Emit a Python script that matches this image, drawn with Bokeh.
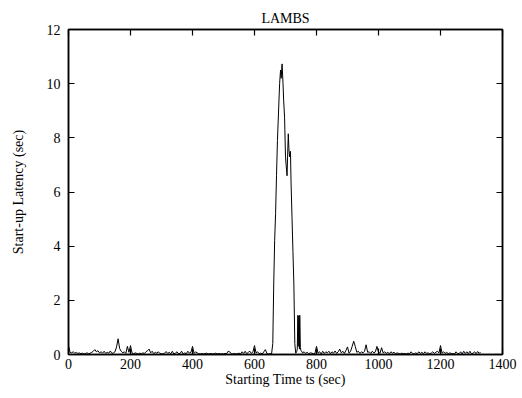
from bokeh.plotting import figure
from bokeh.models import LinearAxis, Range1d, FixedTicker
from bokeh.embed import file_html
from bokeh.resources import INLINE

FONT = "Liberation Serif"

# ---- data ----
time_pre = [0, 5, 10, 15, 20, 25, 30, 35, 40, 45, 50, 55, 60, 65, 70, 75, 80, 85, 90, 95,
            100, 105, 110, 115, 120, 125, 130, 135, 140, 145, 150, 155, 160, 165, 170, 175, 180, 185, 190, 195,
            200, 205, 210, 215, 220, 225, 230, 235, 240, 245, 250, 255, 260, 265, 270, 275, 280, 285, 290, 295,
            300, 305, 310, 315, 320, 325, 330, 335, 340, 345, 350, 355, 360, 365, 370, 375, 380, 385, 390, 395,
            400, 405, 410, 415, 420, 425, 430, 435, 440, 445, 450, 455, 460, 465, 470, 475, 480, 485, 490, 495,
            500, 505, 510, 515, 520, 525, 530, 535, 540, 545, 550, 555, 560, 565, 570, 575, 580, 585, 590, 595,
            600, 605, 610, 615, 620, 625, 630, 635, 640, 645, 650, 655]
latency_pre = [0.32, 0.08, 0.06, 0.10, 0.05, 0.07, 0.04, 0.06, 0.03, 0.05, 0.02, 0.04, 0.06, 0.03, 0.05, 0.08, 0.12, 0.18, 0.10, 0.14,
               0.06, 0.10, 0.05, 0.12, 0.04, 0.08, 0.05, 0.13, 0.04, 0.06, 0.10, 0.28, 0.58, 0.22, 0.12, 0.06, 0.10, 0.04, 0.30, 0.08,
               0.33, 0.05, 0.03, 0.06, 0.04, 0.02, 0.05, 0.03, 0.06, 0.04, 0.10, 0.14, 0.20, 0.06, 0.12, 0.03, 0.08, 0.05, 0.10, 0.04,
               0.03, 0.02, 0.05, 0.11, 0.04, 0.08, 0.03, 0.12, 0.02, 0.05, 0.10, 0.03, 0.04, 0.12, 0.02, 0.06, 0.03, 0.12, 0.05, 0.08,
               0.30, 0.04, 0.10, 0.06, 0.03, 0.02, 0.04, 0.02, 0.03, 0.05, 0.02, 0.03, 0.04, 0.02, 0.03, 0.05, 0.02, 0.04, 0.02, 0.03,
               0.02, 0.04, 0.03, 0.12, 0.10, 0.03, 0.02, 0.04, 0.02, 0.03, 0.05, 0.02, 0.10, 0.04, 0.12, 0.03, 0.08, 0.12, 0.04, 0.10,
               0.33, 0.06, 0.10, 0.03, 0.05, 0.02, 0.10, 0.18, 0.04, 0.02, 0.03, 0.02]

time_peak = [659, 662, 665, 668, 671, 674, 678, 681, 684, 686, 689, 692, 694, 697, 700, 702, 705, 707, 709, 711,
             713, 716, 718, 721, 724, 727, 730, 733, 736, 738, 740, 741, 743, 745, 746, 748, 750, 753]
latency_peak = [0.40, 2.60, 4.20, 5.20, 6.60, 7.90, 9.10, 10.00, 10.50, 10.20, 10.73, 10.00, 9.40, 8.76, 7.30, 7.00, 6.60, 7.40, 8.15, 7.60,
                7.30, 7.50, 6.30, 5.07, 3.80, 2.60, 0.40, 0.05, 0.10, 0.20, 1.45, 0.30, 1.42, 0.20, 1.45, 0.25, 0.15, 0.10]

time_post = [755, 760, 765, 770, 775, 780, 785, 790, 795, 800, 805, 810, 815, 820, 825, 830, 835, 840, 845, 850,
             855, 860, 865, 870, 875, 880, 885, 890, 895, 900, 905, 910, 915, 920, 925, 930, 935, 940, 945, 950,
             955, 960, 965, 970, 975, 980, 985, 990, 995, 1000, 1005, 1010, 1015, 1020, 1025, 1030, 1035, 1040, 1045, 1050,
             1055, 1060, 1065, 1070, 1075, 1080, 1085, 1090, 1095, 1100, 1105, 1110, 1115, 1120, 1125, 1130, 1135, 1140, 1145, 1150,
             1155, 1160, 1165, 1170, 1175, 1180, 1185, 1190, 1195, 1200, 1205, 1210, 1215, 1220, 1225, 1230, 1235, 1240, 1245, 1250,
             1255, 1260, 1265, 1270, 1275, 1280, 1285, 1290, 1295, 1300, 1305, 1310, 1315, 1320, 1325, 1329]
latency_post = [0.06, 0.10, 0.04, 0.08, 0.03, 0.06, 0.05, 0.03, 0.04, 0.30, 0.05, 0.10, 0.02, 0.12, 0.04, 0.10, 0.06, 0.12, 0.03, 0.10,
                0.05, 0.13, 0.04, 0.10, 0.20, 0.06, 0.12, 0.04, 0.15, 0.28, 0.05, 0.12, 0.30, 0.49, 0.30, 0.08, 0.12, 0.04, 0.10, 0.06,
                0.12, 0.36, 0.08, 0.10, 0.04, 0.12, 0.06, 0.10, 0.30, 0.08, 0.05, 0.25, 0.06, 0.10, 0.04, 0.08, 0.03, 0.10, 0.05, 0.08,
                0.03, 0.06, 0.04, 0.02, 0.05, 0.03, 0.04, 0.02, 0.05, 0.03, 0.10, 0.04, 0.02, 0.06, 0.03, 0.10, 0.04, 0.08, 0.03, 0.10,
                0.04, 0.06, 0.03, 0.05, 0.10, 0.04, 0.08, 0.12, 0.06, 0.33, 0.05, 0.10, 0.04, 0.08, 0.03, 0.06, 0.04, 0.03, 0.02, 0.10,
                0.04, 0.03, 0.10, 0.02, 0.12, 0.04, 0.10, 0.03, 0.12, 0.02, 0.05, 0.10, 0.03, 0.11, 0.04, 0.09]

x_ticks = [0, 200, 400, 600, 800, 1000, 1200, 1400]
y_ticks = [0, 2, 4, 6, 8, 10, 12]

times = time_pre + time_peak + time_post
latency = latency_pre + latency_peak + latency_post

p = figure(width=522, height=398, output_backend="svg", toolbar_location=None,
           x_range=Range1d(0, 1400), y_range=Range1d(0, 12),
           min_border_left=68, min_border_right=20, min_border_top=29, min_border_bottom=44,
           title="LAMBS")

p.background_fill_color = "white"
p.border_fill_color = "white"
p.outline_line_color = "black"
p.outline_line_width = 1.5
p.xgrid.visible = False
p.ygrid.visible = False

p.title.align = "center"
p.title.text_font = FONT
p.title.text_font_size = "14px"
p.title.text_font_style = "normal"
p.title.text_color = "black"
p.title.standoff = 8

def style_axis(ax, show_labels=True):
    ax.major_tick_in = 6
    ax.major_tick_out = 0
    ax.major_tick_line_color = "black"
    ax.major_tick_line_width = 1.2
    ax.minor_tick_line_color = None
    ax.axis_line_color = "black"
    ax.axis_line_width = 1.5
    ax.major_label_text_font = FONT
    ax.major_label_text_color = "black"
    ax.major_label_text_font_size = "14px"
    if not show_labels:
        ax.major_label_overrides = {t: "" for t in ax.ticker.ticks}
        ax.major_label_standoff = 0
    ax.axis_label_text_font = FONT
    ax.axis_label_text_font_size = "14px"
    ax.axis_label_text_font_style = "normal"
    ax.axis_label_text_color = "black"

xa = p.xaxis[0]
xa.ticker = FixedTicker(ticks=x_ticks)
xa.axis_label = "Starting Time ts (sec)"
style_axis(xa)
xa.major_label_standoff = 4
xa.axis_label_standoff = 0

ya = p.yaxis[0]
ya.ticker = FixedTicker(ticks=y_ticks)
ya.axis_label = "Start-up Latency (sec)"
style_axis(ya)
ya.major_label_standoff = 8
ya.axis_label_standoff = 18

top = LinearAxis(ticker=FixedTicker(ticks=x_ticks))
style_axis(top, show_labels=False)
p.add_layout(top, "above")

right = LinearAxis(ticker=FixedTicker(ticks=y_ticks))
style_axis(right, show_labels=False)
p.add_layout(right, "right")

p.line(times, latency, line_color="black", line_width=1)

open("out.html", "w").write(file_html(p, INLINE))
